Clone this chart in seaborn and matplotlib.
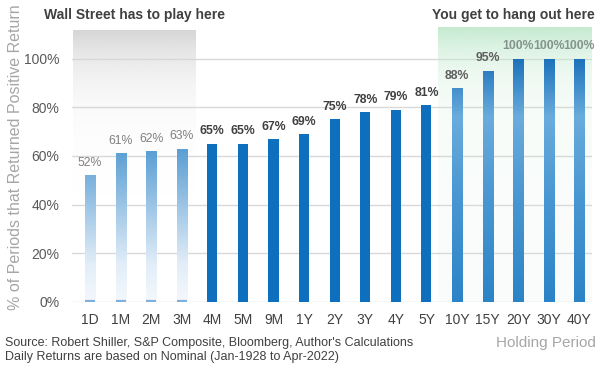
import numpy as np
import pandas as pd
import seaborn as sns
import matplotlib.pyplot as plt
from matplotlib.colors import LinearSegmentedColormap, to_rgb
from matplotlib.ticker import PercentFormatter

# data
periods = ["1D", "1M", "2M", "3M", "4M", "5M", "9M", "1Y", "2Y", "3Y",
           "4Y", "5Y", "10Y", "15Y", "20Y", "30Y", "40Y"]
pct_positive = [52, 61, 62, 63, 65, 65, 67, 69, 75, 78, 79, 81, 88, 95, 100, 100, 100]
groups = ["short"] * 4 + ["mid"] * 8 + ["long"] * 5

df = pd.DataFrame({"period": periods, "pct": pct_positive, "group": groups})

sns.set_theme(style="white")
plt.rcParams["font.family"] = ["Liberation Sans", "DejaVu Sans"]

fig = plt.figure(figsize=(6, 3.69), dpi=100)
ax = fig.add_axes([0.12, 0.182, 0.867, 0.745])

YMAX = 113
sns.barplot(data=df, x="period", y="pct", color="#0f6fbf", width=0.33,
            errorbar=None, saturation=1, ax=ax, zorder=3)

# gradient colour maps
short_cmap = LinearSegmentedColormap.from_list(
    "short", [(0, "#f4f8fc"), (0.15 / 1.13, "#e3eef8"), (0.62 / 1.13, "#5b9fd4"), (1, "#5b9fd4")])
long_cmap = LinearSegmentedColormap.from_list(
    "long", [(0, "#2b84c6"), (0.45 / 1.13, "#4b98d2"), (0.76 / 1.13, "#6aacdc"),
             (1.0 / 1.13, "#1b71ba"), (1, "#1b71ba")])
grad = np.linspace(0, 1, 256).reshape(-1, 1)

for patch, grp in zip(ax.patches, groups):
    patch.set_edgecolor("none")
    if grp == "mid":
        continue
    patch.set_facecolor("none")
    x0, w = patch.get_x(), patch.get_width()
    cmap = short_cmap if grp == "short" else long_cmap
    im = ax.imshow(grad, extent=[x0, x0 + w, 0, YMAX], origin="lower",
                   cmap=cmap, aspect="auto", zorder=3)
    im.set_clip_path(patch)
    if grp == "short":
        ax.hlines(0.5, x0, x0 + w, color="#7fb0da", lw=1.6, zorder=4)

# shaded zones behind the bars, fading fast from the top
def zone(x0, x1, y1, color, a_bot, power):
    rgba = np.zeros((256, 1, 4))
    rgba[..., :3] = to_rgb(color)
    t = np.linspace(0, 1, 256) ** power
    rgba[..., 3] = (a_bot + (1 - a_bot) * t).reshape(-1, 1)
    ax.imshow(rgba, extent=[x0, x1, 0, y1], origin="lower", aspect="auto", zorder=1)

zone(-0.56, 3.44, 111.5, "#d6d6d6", 0.0, 6)
zone(11.39, 16.42, 113, "#c4eacf", 0.1, 8)

# value labels
for i, (v, grp) in enumerate(zip(pct_positive, groups)):
    if grp == "short":
        col, wt = "#808080", "normal"
    elif grp == "mid":
        col, wt = "#404040", "bold"
    else:
        col, wt = ("#85948c", "bold") if v == 100 else ("#5f5f5f", "bold")
    ax.annotate(f"{v}%", (i, v), xytext=(0, 4.5), textcoords="offset points",
                ha="center", va="bottom", fontsize=8.8, color=col,
                fontweight=wt, zorder=5)

ax.set_xlim(-0.59, 16.42)
ax.set_ylim(0, YMAX)
ax.set_yticks(range(0, 101, 20))
ax.yaxis.set_major_formatter(PercentFormatter(decimals=0))
ax.grid(axis="y", color="#d9d9d9", lw=1)
ax.set_axisbelow(True)
sns.despine(ax=ax, left=True, bottom=True)
ax.tick_params(axis="both", length=0, labelsize=10, labelcolor="#595959")
ax.tick_params(axis="x", pad=8, labelcolor="#404040")
ax.tick_params(axis="y", pad=9)
ax.set_xlabel("")
ax.set_ylabel("")

fig.text(0.026, 0.575, "% of Periods that Returned Positive Return", rotation=90,
         ha="center", va="center", fontsize=11.5, color="#a6a6a6")
fig.text(0.224, 0.959, "Wall Street has to play here", ha="center", va="center",
         fontsize=10, fontweight="bold", color="#404040")
fig.text(0.855, 0.959, "You get to hang out here", ha="center", va="center",
         fontsize=10, fontweight="bold", color="#404040")
fig.text(0.008, 0.07, "Source: Robert Shiller, S&P Composite, Bloomberg, Author's Calculations",
         ha="left", va="center", fontsize=9, color="#404040")
fig.text(0.008, 0.032, "Daily Returns are based on Nominal (Jan-1928 to Apr-2022)",
         ha="left", va="center", fontsize=9, color="#404040")
fig.text(0.993, 0.07, "Holding Period", ha="right", va="center",
         fontsize=11, color="#a6a6a6")

fig.savefig("out.png", dpi=100)
